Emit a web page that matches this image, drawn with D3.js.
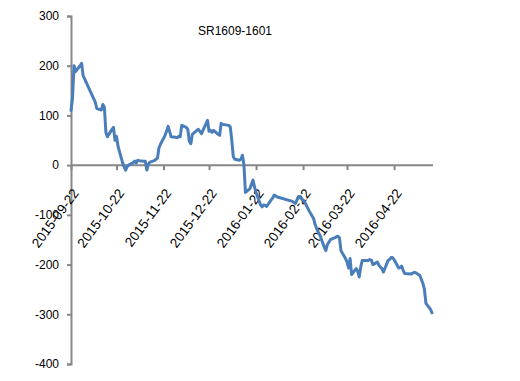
<!DOCTYPE html>
<html><head><meta charset="utf-8">
<script src="https://cdn.jsdelivr.net/npm/d3@7"></script>
<style>body{margin:0;background:#fff}svg{display:block}</style>
</head><body>
<svg id="chart" width="520" height="381"></svg>
<script>
const title = "SR1609-1601";
const dates = ["2015-09-22","2015-09-23","2015-09-24","2015-09-25","2015-09-28","2015-09-29","2015-09-30",
"2015-10-08","2015-10-09","2015-10-12","2015-10-13","2015-10-14","2015-10-15","2015-10-16","2015-10-19","2015-10-20","2015-10-21","2015-10-22","2015-10-23",
"2015-10-26","2015-10-27","2015-10-28","2015-10-29","2015-10-30","2015-11-02","2015-11-03","2015-11-04","2015-11-05","2015-11-06",
"2015-11-09","2015-11-10","2015-11-11","2015-11-12","2015-11-13","2015-11-16","2015-11-17","2015-11-18","2015-11-19","2015-11-20",
"2015-11-23","2015-11-24","2015-11-25","2015-11-26","2015-11-27","2015-11-30","2015-12-01","2015-12-02","2015-12-03","2015-12-04",
"2015-12-07","2015-12-08","2015-12-09","2015-12-10","2015-12-11","2015-12-14","2015-12-15","2015-12-16","2015-12-17","2015-12-18",
"2015-12-21","2015-12-22","2015-12-23","2015-12-24","2015-12-25","2015-12-28","2015-12-29","2015-12-30","2015-12-31",
"2016-01-04","2016-01-05","2016-01-06","2016-01-07","2016-01-08","2016-01-11","2016-01-12","2016-01-13","2016-01-14","2016-01-15",
"2016-01-18","2016-01-19","2016-01-20","2016-01-21","2016-01-22","2016-01-25","2016-01-26","2016-01-27","2016-01-28","2016-01-29",
"2016-02-01","2016-02-02","2016-02-03","2016-02-04","2016-02-05","2016-02-15","2016-02-16","2016-02-17","2016-02-18","2016-02-19",
"2016-02-22","2016-02-23","2016-02-24","2016-02-25","2016-02-26","2016-02-29","2016-03-01","2016-03-02","2016-03-03","2016-03-04",
"2016-03-07","2016-03-08","2016-03-09","2016-03-10","2016-03-11","2016-03-14","2016-03-15","2016-03-16","2016-03-17","2016-03-18",
"2016-03-21","2016-03-22","2016-03-23","2016-03-24","2016-03-25","2016-03-28","2016-03-29","2016-03-30","2016-03-31","2016-04-01",
"2016-04-05","2016-04-06","2016-04-07","2016-04-08","2016-04-11","2016-04-12","2016-04-13","2016-04-14","2016-04-15",
"2016-04-18","2016-04-19","2016-04-20","2016-04-21","2016-04-22","2016-04-25","2016-04-26","2016-04-27","2016-04-28","2016-04-29",
"2016-05-03","2016-05-04","2016-05-05","2016-05-06","2016-05-09","2016-05-10","2016-05-11","2016-05-12","2016-05-13","2016-05-16","2016-05-17"];
const spread = [110,135,200,188,200,205,180,
127,114,111,122,117,66,57,72,76,50,58,38,
5,-3,-10,-3,0,5,8,4,10,9,
8,8,-10,2,6,9,12,14,35,42,
60,68,78,68,57,56,55,58,57,80,
76,72,48,43,62,70,72,68,63,70,
90,68,70,66,70,62,60,84,82,
80,77,50,17,12,10,12,20,2,-55,
-47,-38,-30,-44,-55,-80,-84,-80,-81,-83,
-70,-66,-60,-62,-64,-73,-75,-77,-70,-63,
-70,-74,-80,-86,-92,-108,-120,-128,-135,-140,
-165,-172,-160,-155,-150,-146,-144,-143,-146,-172,
-188,-195,-207,-188,-220,-208,-213,-225,-205,-192,
-192,-190,-191,-200,-195,-201,-205,-208,-215,
-192,-190,-186,-186,-190,-207,-206,-203,-212,-218,
-219,-218,-216,-216,-222,-230,-238,-250,-278,-290,-297];
const xTickLabels = ["2015-09-22","2015-10-22","2015-11-22","2015-12-22","2016-01-22","2016-02-22","2016-03-22","2016-04-22"];
const yTicks = [300,200,100,0,-100,-200,-300,-400];

const parse = d3.timeParse("%Y-%m-%d");
const data = dates.map((d,i)=>({date:parse(d), v:spread[i]}));
const svg = d3.select("#chart");
const x = d3.scaleTime().domain([parse("2015-09-22"), parse("2016-05-17")]).range([71, 432]);
const y = d3.scaleLinear().domain([-400, 300]).range([364, 16]);
const axisColor = "#878787";
const font = "'Liberation Sans', Arial, sans-serif";

// y axis
const ya = svg.append("g").attr("transform","translate(71,0)")
  .call(d3.axisLeft(y).tickValues(yTicks).tickSize(4).tickPadding(8).tickFormat(d=>String(d)));
ya.select(".domain").attr("stroke",axisColor).attr("stroke-width",2);
ya.selectAll(".tick line").attr("stroke",axisColor).attr("stroke-width",2);
ya.selectAll(".tick text").attr("fill","#000").style("font-family",font).style("font-size","12px");

// x axis at y=0
const xa = svg.append("g").attr("transform",`translate(0,${y(0)})`)
  .call(d3.axisBottom(x).tickValues(xTickLabels.map(parse)).tickSize(5).tickSizeOuter(0).tickFormat(d3.timeFormat("%Y-%m-%d")));
xa.select(".domain").attr("stroke",axisColor).attr("stroke-width",2).attr("d",`M71,0H433`);
xa.selectAll(".tick line").attr("stroke",axisColor).attr("stroke-width",2);
xa.selectAll(".tick text").attr("fill","#000").style("font-family",font).style("font-size","13.5px")
  .attr("text-anchor","end").attr("dy",null).attr("y",0)
  .attr("transform","translate(8,28) rotate(-53.5)");

// line
svg.append("path").datum(data)
  .attr("fill","none").attr("stroke","#4A7EBB").attr("stroke-width",3)
  .attr("stroke-linejoin","round").attr("stroke-linecap","round")
  .attr("d", d3.line().x(d=>x(d.date)).y(d=>y(d.v)));

// title
svg.append("text").attr("x",235).attr("y",35).attr("text-anchor","middle")
  .style("font-family",font).style("font-size","12px").attr("fill","#000").text(title);
</script>
</body></html>
